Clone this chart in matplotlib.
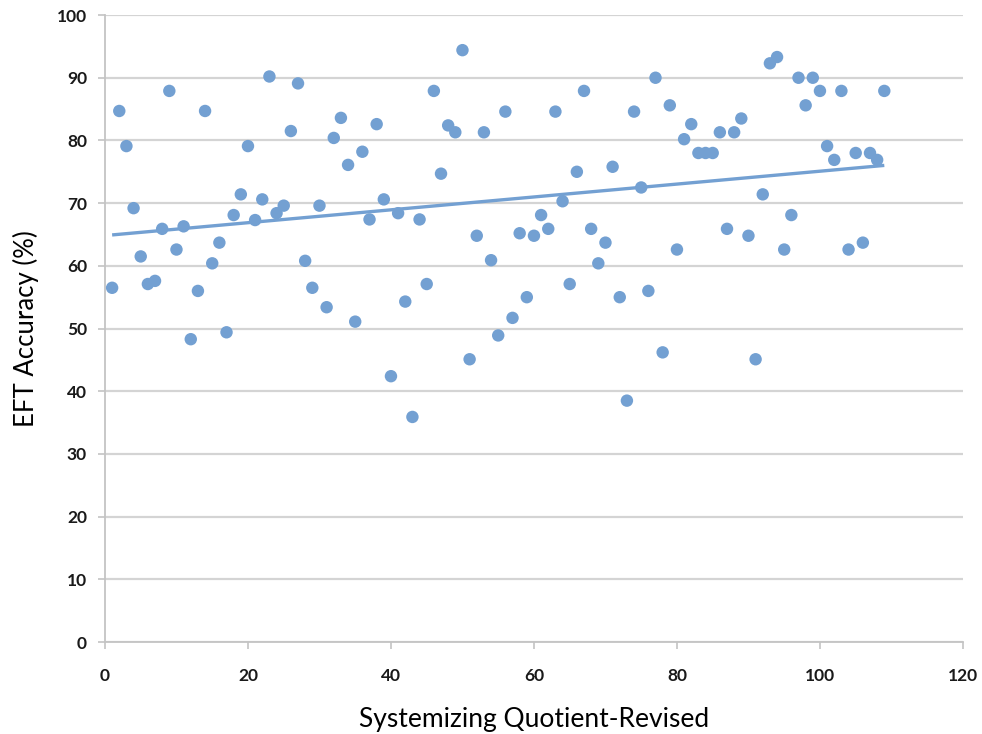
import numpy as np
import matplotlib
matplotlib.use("Agg")
import matplotlib.pyplot as plt

# Systemizing Quotient-Revised score (participant order) and EFT accuracy
sq_r = list(range(1, 110))
eft_accuracy = [
    56.5, 84.7, 79.1, 69.2, 61.5, 57.1, 57.6, 65.9, 87.9, 62.6,
    66.3, 48.3, 56.0, 84.7, 60.4, 63.7, 49.4, 68.1, 71.4, 79.1,
    67.3, 70.6, 90.2, 68.4, 69.6, 81.5, 89.1, 60.8, 56.5, 69.6,
    53.4, 80.4, 83.6, 76.1, 51.1, 78.2, 67.4, 82.6, 70.6, 42.4,
    68.4, 54.3, 35.9, 67.4, 57.1, 87.9, 74.7, 82.4, 81.3, 94.4,
    45.1, 64.8, 81.3, 60.9, 48.9, 84.6, 51.7, 65.2, 55.0, 64.8,
    68.1, 65.9, 84.6, 70.3, 57.1, 75.0, 87.9, 65.9, 60.4, 63.7,
    75.8, 55.0, 38.5, 84.6, 72.5, 56.0, 90.0, 46.2, 85.6, 62.6,
    80.2, 82.6, 78.0, 78.0, 78.0, 81.3, 65.9, 81.3, 83.5, 64.8,
    45.1, 71.4, 92.3, 93.3, 62.6, 68.1, 90.0, 85.6, 90.0, 87.9,
    79.1, 76.9, 87.9, 62.6, 78.0, 63.7, 78.0, 76.9, 87.9,
]
x_ticks = [0, 20, 40, 60, 80, 100, 120]
y_ticks = [0, 10, 20, 30, 40, 50, 60, 70, 80, 90, 100]

plt.rcParams["font.family"] = ["Lato", "DejaVu Sans"]

fig = plt.figure(figsize=(9.82, 7.34), dpi=100)
ax = fig.add_axes([0.1069, 0.1253, 0.8737, 0.8542])

blue = "#73a0d2"
grid_grey = "#d4d4d4"

ax.scatter(sq_r, eft_accuracy, s=80, color=blue, edgecolors="none", zorder=3)

# Linear trend line over the observed range
slope, intercept = np.polyfit(sq_r, eft_accuracy, 1)
xs = np.array([min(sq_r), max(sq_r)])
ax.plot(xs, slope * xs + intercept, color=blue, linewidth=2.4,
        solid_capstyle="butt", zorder=4)

ax.set_xlim(0, 120)
ax.set_ylim(0, 100)
ax.set_xticks(x_ticks)
ax.set_yticks(y_ticks)
ax.yaxis.grid(True, color=grid_grey, linewidth=1.6)
ax.set_axisbelow(True)

for side in ("top", "right"):
    ax.spines[side].set_visible(False)
for side in ("left", "bottom"):
    ax.spines[side].set_color("#c4c4c4")
    ax.spines[side].set_linewidth(1.3)

ax.tick_params(axis="both", colors="#c4c4c4", labelcolor="#1a1a1a",
               labelsize=12.5, length=5, width=1.2, direction="out")
ax.tick_params(axis="x", pad=14)
ax.tick_params(axis="y", pad=8)
for lbl in ax.get_xticklabels() + ax.get_yticklabels():
    lbl.set_fontweight("bold")

ax.set_xlabel("Systemizing Quotient-Revised", fontsize=19, labelpad=16)
ax.set_ylabel("EFT Accuracy (%)", fontsize=18.5, labelpad=13)

fig.savefig("out.png", dpi=100)
